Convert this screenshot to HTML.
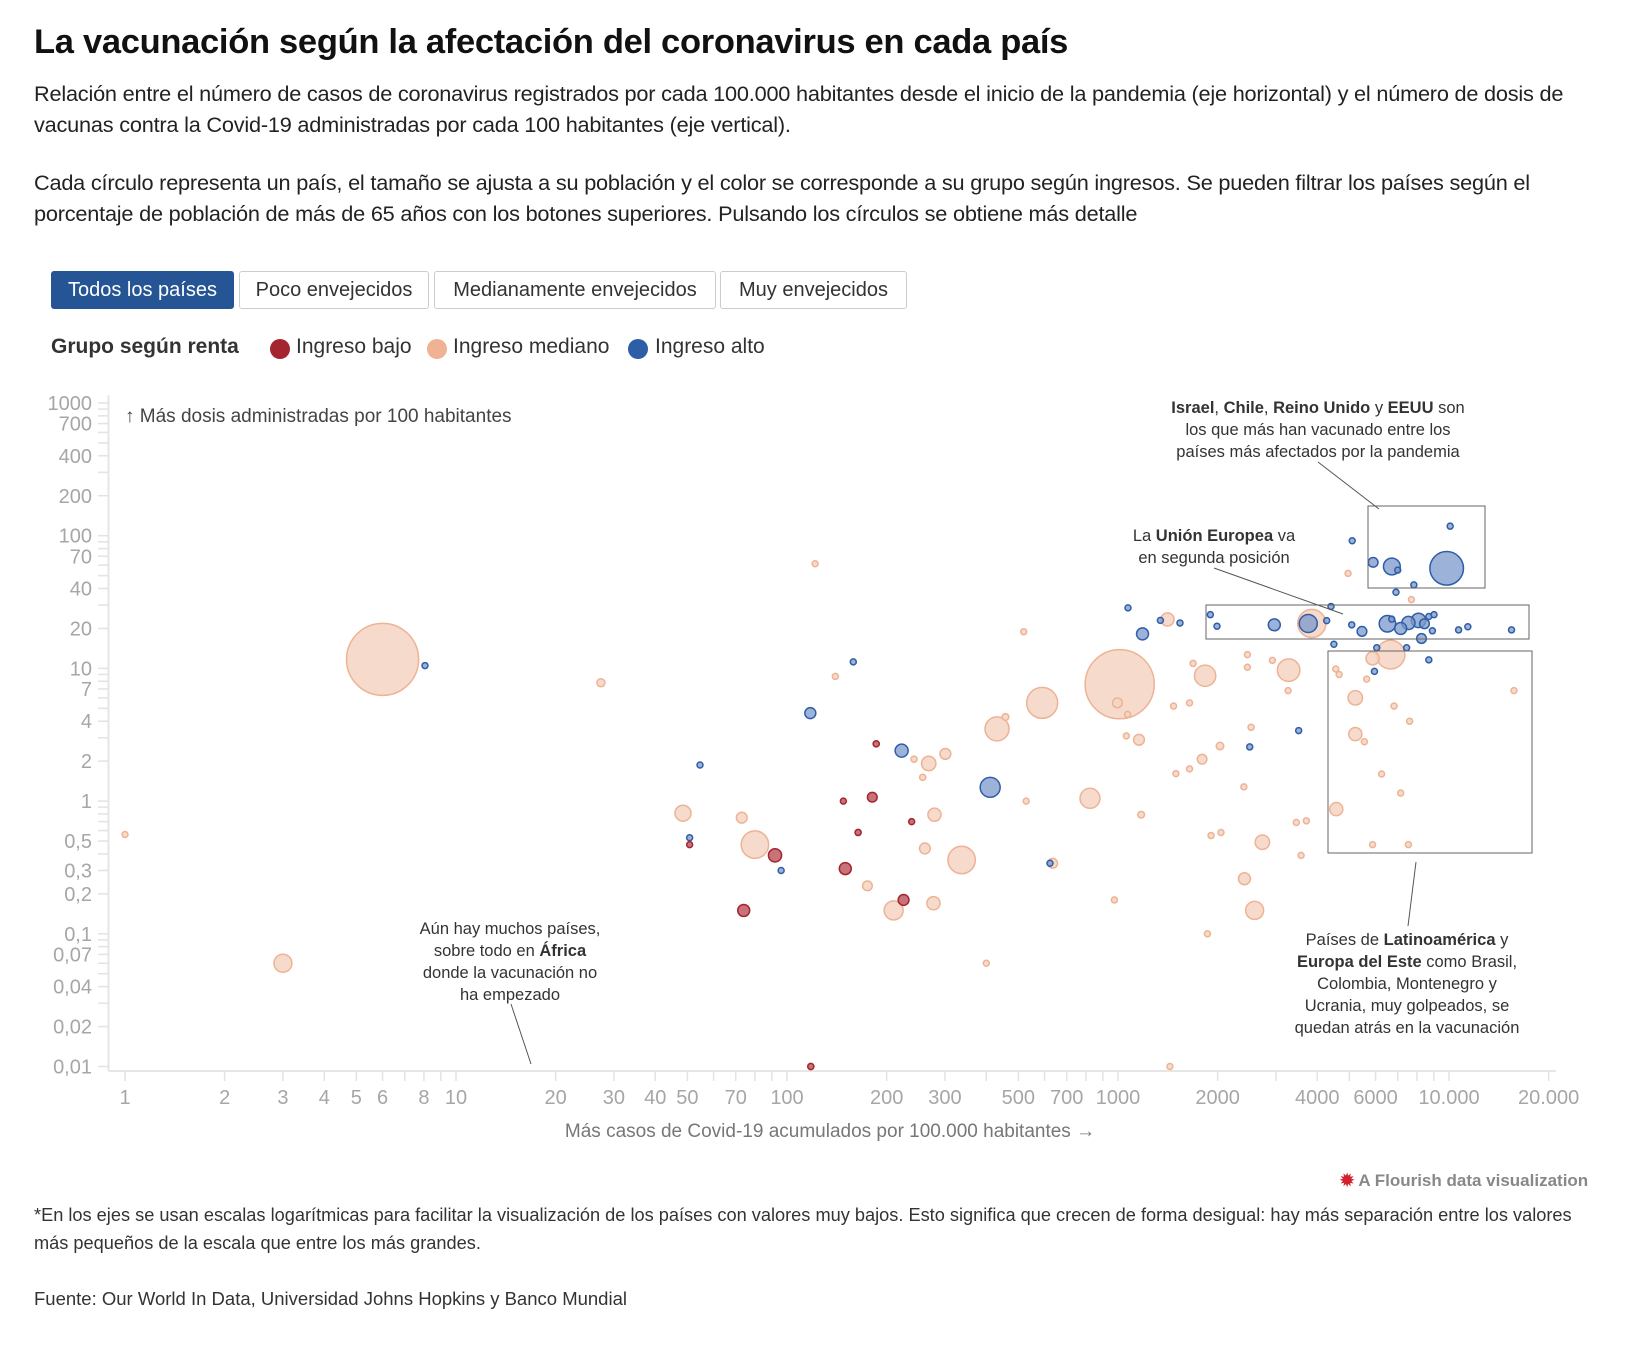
<!DOCTYPE html>
<html><head><meta charset="utf-8"><style>
body{margin:0;background:#fff;width:1635px;height:1350px;overflow:hidden;font-family:"Liberation Sans",sans-serif;color:#222;position:relative}
.abs{position:absolute;white-space:nowrap}
h1{position:absolute;left:34px;top:23px;margin:0;font-size:34.5px;font-weight:bold;letter-spacing:-0.3px;color:#111}
.p{font-size:21.7px;color:#222;letter-spacing:-0.2px}
.btn{position:absolute;top:271px;height:38px;border:1px solid #ccc;border-radius:3px;box-sizing:border-box;font-size:20px;display:flex;align-items:center;justify-content:center;color:#333;background:#fff}
.btn.on{background:#255594;color:#fff;border-color:#255594}
.dot{position:absolute;width:20px;height:20px;border-radius:50%;top:339px}
</style></head><body>
<h1>La vacunación según la afectación del coronavirus en cada país</h1>
<div class="abs p" style="left:34px;top:81px">Relación entre el número de casos de coronavirus registrados por cada 100.000 habitantes desde el inicio de la pandemia (eje horizontal) y el número de dosis de</div>
<div class="abs p" style="left:34px;top:112px">vacunas contra la Covid-19 administradas por cada 100 habitantes (eje vertical).</div>
<div class="abs p" style="left:34px;top:170px">Cada círculo representa un país, el tamaño se ajusta a su población y el color se corresponde a su grupo según ingresos. Se pueden filtrar los países según el</div>
<div class="abs p" style="left:34px;top:201px">porcentaje de población de más de 65 años con los botones superiores. Pulsando los círculos se obtiene más detalle</div>

<div class="btn on" style="left:51px;width:183px">Todos los países</div>
<div class="btn" style="left:239px;width:190px">Poco envejecidos</div>
<div class="btn" style="left:434px;width:282px">Medianamente envejecidos</div>
<div class="btn" style="left:720px;width:187px">Muy envejecidos</div>

<div class="abs" style="left:51px;top:335px;font-size:21px;font-weight:bold;color:#333">Grupo según renta</div>
<div class="dot" style="left:270px;background:#a3252f"></div>
<div class="abs" style="left:296px;top:335px;font-size:21px;color:#333">Ingreso bajo</div>
<div class="dot" style="left:427px;background:#efb394"></div>
<div class="abs" style="left:453px;top:335px;font-size:21px;color:#333">Ingreso mediano</div>
<div class="dot" style="left:628px;background:#2f5ea8"></div>
<div class="abs" style="left:655px;top:335px;font-size:21px;color:#333">Ingreso alto</div>

<svg id="chart" width="1635" height="1350" style="position:absolute;left:0;top:0"></svg>

<div class="abs" style="left:1340px;top:1171px;font-size:17px;font-weight:bold;color:#888"><span style="color:#d2222d">✹</span> A Flourish data visualization</div>
<div class="abs" style="left:34px;top:1205px;font-size:18.2px;color:#333">*En los ejes se usan escalas logarítmicas para facilitar la visualización de los países con valores muy bajos. Esto significa que crecen de forma desigual: hay más separación entre los valores</div>
<div class="abs" style="left:34px;top:1233px;font-size:18.2px;color:#333">más pequeños de la escala que entre los más grandes.</div>
<div class="abs" style="left:34px;top:1288px;font-size:18.5px;color:#333">Fuente: Our World In Data, Universidad Johns Hopkins y Banco Mundial</div>

<script>
const casesX=[1,6,8.06,27.4,3,48.5,50.8,50.8,54.6,121.6,158.6,140,117.6,186,222,242,268,301,257,411,148,181,73,80,92,96,150,164,238,279,261,337,175,225,210,277,74,118,400,528,519,431,457,590,1012,996,1069,823,623,635,1060,1157,1175,975,1072,1186,1343,1411,1539,1435,1686,1833,1472,1645,2033,1795,1496,1645,1910,2047,1863,2400,2500,2524,2730,2410,2587,2460,2460,2927,3277,3265,3514,3457,3707,3573,4565,5212,5212,5550,4548,4657,5640,5876,6659,5953,6256,7145,6823,7603,5876,7538,15713,8690,7447,6050,4490,8260,4955,5100,5900,6720,7000,10080,9840,7830,6915,7700,4400,1901,1991,2966,3850,3757,4270,5083,5458,6516,6714,7145,7540,8090,8430,8690,9010,8910,10690,11400,15450];
const dosesY=[0.56,11.7,10.5,7.8,0.06,0.81,0.53,0.47,1.87,61.5,11.2,8.7,4.6,2.7,2.4,2.07,1.92,2.27,1.51,1.27,1.0,1.07,0.75,0.47,0.39,0.30,0.31,0.58,0.70,0.79,0.44,0.36,0.23,0.18,0.15,0.17,0.15,0.01,0.06,1.0,18.9,3.5,4.3,5.5,7.6,5.5,4.5,1.05,0.34,0.34,3.1,2.9,0.79,0.18,28.6,18.2,23,23.4,22,0.01,10.9,8.8,5.2,5.5,2.6,2.07,1.61,1.75,0.55,0.58,0.10,1.28,2.56,3.6,0.49,0.26,0.15,12.7,10.2,11.5,9.7,6.8,3.4,0.69,0.71,0.39,0.87,6.0,3.2,2.8,9.9,9.0,8.3,11.9,12.7,9.5,1.6,1.15,5.2,4.0,0.47,0.47,6.8,11.6,14.3,14.3,15.2,16.8,52,91.6,63,58.6,55,118,56.8,42.6,37.5,33,29.3,25.4,20.8,21.3,21.8,21.8,22.9,21.3,19,21.7,23.5,20,22,23,21.7,24.6,25.4,19.2,19.5,20.6,19.5];
const population=[5,1380,5,17,86,68,5,5,5,5,5,5,32,10,45,10,55,31,10,106,8,25,31,200,46,8,38,10,8,46,31,200,25,31,96,46,38,10,8,8,8,153,12,255,1270,25,8,106,8,25,8,31,12,8,8,38,8,46,8,8,8,120,8,8,15,25,8,8,8,8,8,8,8,10,55,38,86,8,8,8,135,8,8,8,8,8,46,55,46,8,8,8,8,46,218,8,8,8,8,8,8,8,8,8,8,8,8,25,8,8,25,75,8,8,300,8,8,8,8,8,8,38,210,86,8,8,25,72,8,38,46,55,25,8,8,8,8,8,8];
const incomeGroup=["m","m","a","m","m","m","a","b","a","m","a","m","a","b","a","m","m","m","m","a","b","b","m","m","b","a","b","b","b","m","m","m","m","b","m","m","b","b","m","m","m","m","m","m","m","m","m","m","a","m","m","m","m","m","a","a","a","m","a","m","m","m","m","m","m","m","m","m","m","m","m","m","a","m","m","m","m","m","m","m","m","m","a","m","m","m","m","m","m","m","m","m","m","m","m","a","m","m","m","m","m","m","m","a","a","a","a","a","m","a","a","a","a","a","a","a","a","m","a","a","a","a","m","a","a","a","a","a","a","a","a","a","a","a","a","a","a","a","a"];
const xTickLabels=[1,2,3,4,5,6,8,10,20,30,40,50,70,100,200,300,500,700,1000,2000,4000,6000,10000,20000];
const yTickLabels=[1000,700,400,200,100,70,40,20,10,7,4,2,1,0.5,0.3,0.2,0.1,0.07,0.04,0.02,0.01];

const NS="http://www.w3.org/2000/svg";
const svg=document.getElementById("chart");
const X0=125,XPD=331,Y0=403,YPD=132.7;
function xs(v){return X0+Math.log10(v)*XPD;}
function ys(v){return Y0+(3-Math.log10(v))*YPD;}
function mk(t,a){const e=document.createElementNS(NS,t);for(const k in a)e.setAttribute(k,a[k]);svg.appendChild(e);return e;}
function fmt(v){return v>=10000?String(v).replace(/(\d)(?=(\d{3})+$)/g,"$1."):String(v).replace(".",",");}

const ax=mk("line",{x1:108.5,y1:395,x2:108.5,y2:1071,stroke:"#e6e6e6","stroke-width":2});


const axx=mk("line",{x1:108.5,y1:1071,x2:1556,y2:1071,stroke:"#e6e6e6","stroke-width":2});


for(let d=-2;d<3;d++)for(let m=1;m<10;m++){const v=m*Math.pow(10,d);const y=ys(v);
  const t=mk("line",{x1:98,x2:108,y1:y,y2:y,stroke:"#e3e3e3","stroke-width":1.5});
  
  }
mk("line",{x1:98,x2:108,y1:ys(1000),y2:ys(1000),stroke:"#e3e3e3","stroke-width":1.5});
for(let d=0;d<5;d++)for(let m=1;m<10;m++){const v=m*Math.pow(10,d);const x=xs(v);if(x>1556||x<108)continue;
  const t=mk("line",{x1:x,x2:x,y1:1071,y2:1081,stroke:"#e3e3e3","stroke-width":1.5});
  
  }
yTickLabels.forEach(v=>{const t=mk("text",{x:92,y:ys(v)+7,"text-anchor":"end","font-size":20,fill:"#a6a6a6"});t.textContent=fmt(v);
  
  });
xTickLabels.forEach(v=>{const t=mk("text",{x:xs(v),y:1104,"text-anchor":"middle","font-size":20,fill:"#a6a6a6"});t.textContent=fmt(v);
  
  });
const yt=mk("text",{x:125,y:422,"font-size":19,fill:"#444"});yt.textContent="↑ Más dosis administradas por 100 habitantes";


const xt=mk("text",{x:830,y:1137,"text-anchor":"middle","font-size":19,fill:"#777"});xt.textContent="Más casos de Covid-19 acumulados por 100.000 habitantes →";



const col={b:["#b6434d","#a3252f"],m:["#f4d3c3","#eeb394"],a:["#7b98cb","#2f5ea8"]};
const idx=casesX.map((_,i)=>i).sort((a,b)=>population[b]-population[a]);
idx.forEach(i=>{const r=Math.max(3,0.97*Math.sqrt(population[i]));const g=incomeGroup[i];
  const c=mk("circle",{cx:xs(casesX[i]),cy:ys(dosesY[i]),r:r,fill:col[g][0],"fill-opacity":g==="m"?0.85:0.75,stroke:col[g][1],"stroke-width":1.5});
  
  });

function box(x,y,w,h,n){const b=mk("rect",{x:x,y:y,width:w,height:h,fill:"none",stroke:"#666","stroke-width":1});
  
  }
function ln(x1,y1,x2,y2){mk("line",{x1:x1,y1:y1,x2:x2,y2:y2,stroke:"#555","stroke-width":1});}
function note(cx,ys0,lines,n){const t=mk("text",{x:cx,y:ys0,"text-anchor":"middle","font-size":16.5,fill:"#333"});
  
  
  lines.forEach((l,k)=>{const ts=document.createElementNS(NS,"tspan");ts.setAttribute("x",cx);ts.setAttribute("dy",k?22:0);ts.innerHTML=l;t.appendChild(ts);});}
box(1368,506,117,82,'israel-box');ln(1318,462,1379,509);
note(1318,413,['<tspan font-weight="bold">Israel</tspan>, <tspan font-weight="bold">Chile</tspan>, <tspan font-weight="bold">Reino Unido</tspan> y <tspan font-weight="bold">EEUU</tspan> son','los que más han vacunado entre los','países más afectados por la pandemia'],'israel-annotation');
box(1206,605,323,34,'eu-box');ln(1214,568,1343,614);
note(1214,541,['La <tspan font-weight="bold">Unión Europea</tspan> va','en segunda posición'],'eu-annotation');
box(1328,651,204,202,'latam-box');ln(1416,862,1408,926);
note(1407,945,['Países de <tspan font-weight="bold">Latinoamérica</tspan> y','<tspan font-weight="bold">Europa del Este</tspan> como Brasil,','Colombia, Montenegro y','Ucrania, muy golpeados, se','quedan atrás en la vacunación'],'latam-annotation');
ln(511,1004,531,1064);
note(510,934,['Aún hay muchos países,','sobre todo en <tspan font-weight="bold">África</tspan>','donde la vacunación no','ha empezado'],'africa-annotation');
</script>
</body></html>
